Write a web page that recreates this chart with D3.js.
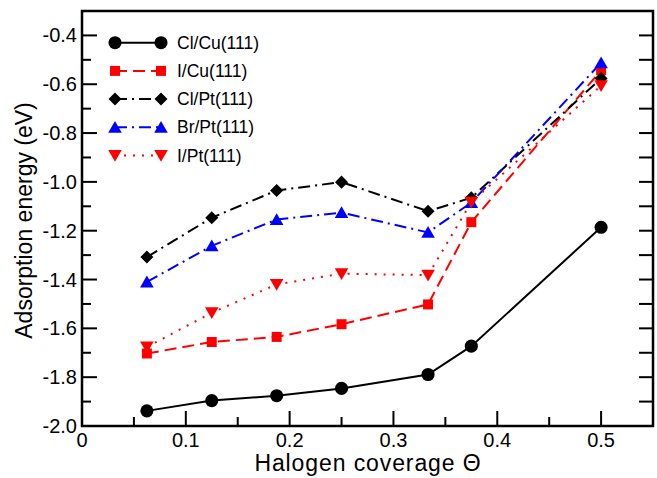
<!DOCTYPE html>
<html><head><meta charset="utf-8">
<script src="https://cdn.jsdelivr.net/npm/d3@7"></script>
<style>body{margin:0;background:#fff}svg{display:block}text{font-family:"Liberation Sans",Arial,sans-serif}</style>
</head><body><svg id="c" width="657" height="478"></svg>
<script>
const coverage = [0.0625, 0.125, 0.1875, 0.25, 1/3, 0.375, 0.5];
const clCu = [-1.938, -1.896, -1.876, -1.846, -1.789, -1.673, -1.186];
const iCu  = [-1.703, -1.656, -1.635, -1.583, -1.502, -1.165, -0.543];
const clPt = [-1.308, -1.147, -1.035, -1.001, -1.120, -1.065, -0.576];
const brPt = [-1.410, -1.262, -1.154, -1.126, -1.207, -1.085, -0.512];
const iPt  = [-1.676, -1.536, -1.420, -1.376, -1.382, -1.083, -0.606];
const seriesNames = ["Cl/Cu(111)", "I/Cu(111)", "Cl/Pt(111)", "Br/Pt(111)", "I/Pt(111)"];
const xTicks = [0, 0.1, 0.2, 0.3, 0.4, 0.5];
const yTicks = [-2.0, -1.8, -1.6, -1.4, -1.2, -1.0, -0.8, -0.6, -0.4];

const series = [
  {name: seriesNames[0], v: clCu, color: "#000", dash: null, sym: d3.symbolCircle, size: 135},
  {name: seriesNames[1], v: iCu, color: "#ff0000", dash: "12,6", sym: d3.symbolSquare, size: 100},
  {name: seriesNames[2], v: clPt, color: "#000", dash: "12,5,2,5", sym: d3.symbolSquare, size: 85, rot: 45},
  {name: seriesNames[3], v: brPt, color: "#0000ff", dash: "12,5,2,5", sym: d3.symbolTriangle, size: 80},
  {name: seriesNames[4], v: iPt, color: "#ff0000", dash: "2,7", sym: d3.symbolTriangle, size: 80, rot: 180}
];

const svg = d3.select("#c");
const L = 82, R = 653, T = 11, B = 426;
const x = d3.scaleLinear().domain([0, 0.55]).range([L, R]);
const y = d3.scaleLinear().domain([-2.0, -0.3]).range([B, T]);

// ticks
const g = svg.append("g");
const xMinor = d3.range(0.05, 0.55, 0.1);
const yMinor = d3.range(-1.9, -0.3, 0.2);
const tick = (x1,y1,x2,y2) => g.append("line").attr("x1",x1).attr("y1",y1).attr("x2",x2).attr("y2",y2).attr("stroke","#000").attr("stroke-width",2);
xTicks.forEach(t => { if (t>0) tick(x(t), B, x(t), B-15); });
xMinor.forEach(t => tick(x(t), B, x(t), B-9));
yTicks.forEach(t => { if (t>-2) tick(L, y(t), L+15, y(t)); });
yMinor.forEach(t => tick(L, y(t), L+9, y(t)));
yTicks.concat(yMinor).forEach(t => { if (t>-2) tick(R, y(t), R-14, y(t)); });

// tick labels
g.selectAll(".xl").data(xTicks).enter().append("text")
  .attr("x", d => x(d)).attr("y", 447).attr("text-anchor","middle")
  .attr("font-size", 20).text(d => d === 0 ? "0" : d3.format(".1f")(d));
g.selectAll(".yl").data(yTicks).enter().append("text")
  .attr("x", L-5).attr("y", d => y(d)+7).attr("text-anchor","end")
  .attr("font-size", 20).text(d => d3.format(".1f")(d).replace("−","-"));

// axis titles
svg.append("text").attr("x", 368).attr("y", 471).attr("text-anchor","middle")
  .attr("font-size", 23).attr("letter-spacing", 0.9).text("Halogen coverage Θ");
svg.append("text").attr("transform","translate(32,220.5) rotate(-90)").attr("text-anchor","middle")
  .attr("font-size", 23).text("Adsorption energy (eV)");

// lines & markers
const line = d3.line().x((d,i) => x(coverage[i])).y(d => y(d));
const drawMarker = (sel, s, cx, cy) => {
  const dy = s.sym === d3.symbolTriangle ? (s.rot ? -1.5 : 1.5) : 0;
  sel.append("path").attr("d", d3.symbol(s.sym, s.size)())
    .attr("transform", `translate(${cx},${cy+dy})` + (s.rot ? ` rotate(${s.rot})` : ""))
    .attr("fill", s.color);
};
const plot = svg.append("g");
series.forEach(s => {
  plot.append("path").attr("d", line(s.v)).attr("fill","none").attr("stroke", s.color)
    .attr("stroke-width", 2).attr("stroke-dasharray", s.dash);
});
series.forEach(s => {
  s.v.forEach((v,i) => drawMarker(plot, s, x(coverage[i]), y(v)));
});

// legend
const leg = svg.append("g");
series.forEach((s,i) => {
  const ly = 42.7 + i*28.2;
  leg.append("line").attr("x1",115).attr("x2",161).attr("y1",ly).attr("y2",ly)
    .attr("stroke", s.color).attr("stroke-width",2).attr("stroke-dasharray", s.dash);
  drawMarker(leg, s, 115, ly);
  drawMarker(leg, s, 161, ly);
  leg.append("text").attr("x",177).attr("y",ly+6).attr("font-size",17.5).text(s.name);
});

// frame
svg.append("rect").attr("x",L).attr("y",T).attr("width",R-L).attr("height",B-T)
  .attr("fill","none").attr("stroke","#000").attr("stroke-width",2.5);
</script></body></html>
